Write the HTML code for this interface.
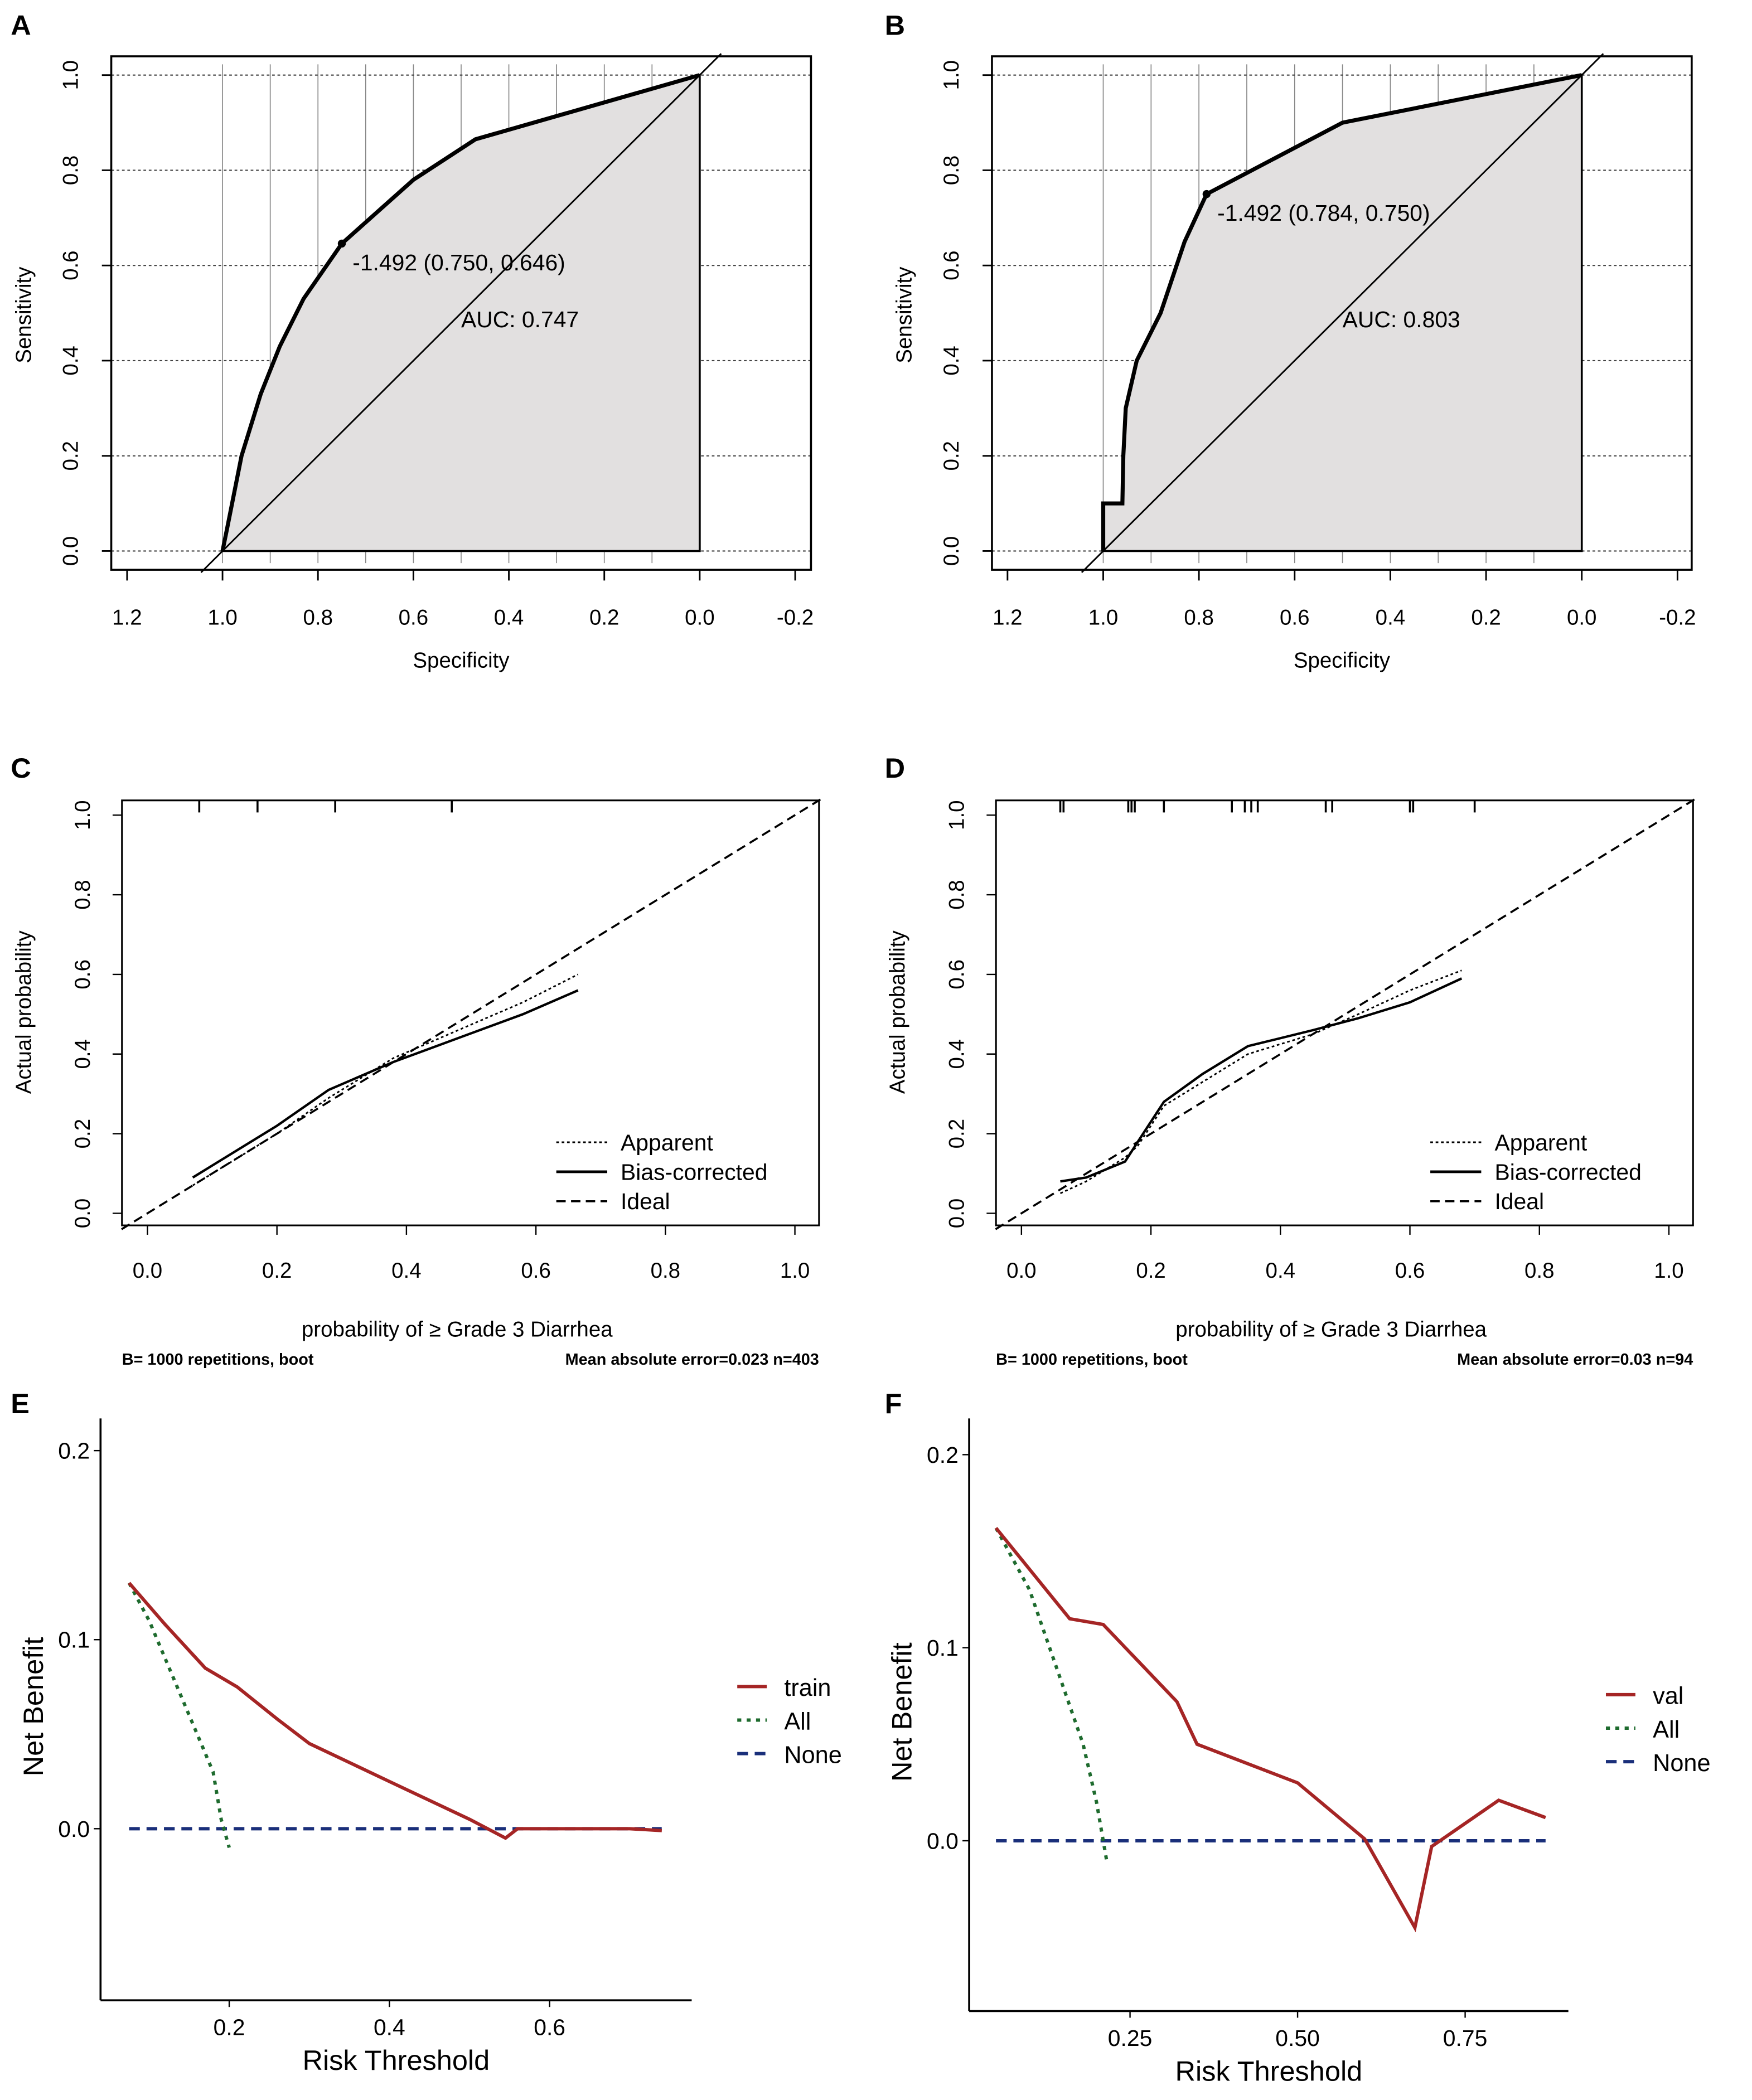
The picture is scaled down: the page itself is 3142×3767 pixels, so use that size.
<!DOCTYPE html>
<html><head><meta charset="utf-8"><style>
html,body{margin:0;padding:0;background:#fff;}
svg{display:block;font-family:"Liberation Sans",sans-serif;}
</style></head><body>
<svg id="fig" width="3142" height="3767" viewBox="0 0 1290 1546" preserveAspectRatio="none" xmlns="http://www.w3.org/2000/svg">
<rect width="1290" height="1546" fill="#fff"/>
<g id="root" transform="scale(0.987)"></g>
</svg>
<script>
// ---------- data ----------
const rocASpec = [1.0, 0.99, 0.96, 0.92, 0.88, 0.83, 0.75, 0.6, 0.47, 0.0];
const rocASens = [0.0, 0.05, 0.2, 0.33, 0.43, 0.53, 0.646, 0.78, 0.865, 1.0];
const rocBSpec = [1.0, 1.0, 0.96, 0.958, 0.953, 0.93, 0.88, 0.83, 0.784, 0.5, 0.0];
const rocBSens = [0.0, 0.1, 0.1, 0.2, 0.3, 0.4, 0.5, 0.65, 0.75, 0.9, 1.0];
const rocTicksX = [1.2, 1.0, 0.8, 0.6, 0.4, 0.2, 0.0, -0.2];
const rocTicksY = [0.0, 0.2, 0.4, 0.6, 0.8, 1.0];

const calCPredX = [0.07, 0.12, 0.2, 0.28, 0.38, 0.48, 0.58, 0.665];
const calCApp = [0.07, 0.12, 0.2, 0.29, 0.39, 0.46, 0.53, 0.6];
const calCBias = [0.09, 0.14, 0.22, 0.31, 0.38, 0.44, 0.5, 0.56];
const calDPredX = [0.06, 0.1, 0.16, 0.18, 0.22, 0.28, 0.35, 0.45, 0.52, 0.6, 0.68];
const calDApp = [0.05, 0.08, 0.14, 0.17, 0.27, 0.33, 0.4, 0.45, 0.5, 0.56, 0.61];
const calDBias = [0.08, 0.09, 0.13, 0.18, 0.28, 0.35, 0.42, 0.46, 0.49, 0.53, 0.59];
const calTicks = [0.0, 0.2, 0.4, 0.6, 0.8, 1.0];
const rugC = [0.08, 0.17, 0.29, 0.47];
const rugD = [0.06, 0.065, 0.165, 0.17, 0.175, 0.22, 0.325, 0.345, 0.355, 0.365, 0.47, 0.48, 0.6, 0.605, 0.7];

const dcaEThr = [0.075, 0.12, 0.17, 0.21, 0.26, 0.3, 0.4, 0.5, 0.545, 0.56, 0.7, 0.74];
const dcaETrain = [0.13, 0.108, 0.085, 0.075, 0.058, 0.045, 0.025, 0.005, -0.005, 0.0, 0.0, -0.001];
const dcaEAllThr = [0.075, 0.1, 0.13, 0.16, 0.18, 0.19, 0.2];
const dcaEAll = [0.13, 0.11, 0.08, 0.05, 0.03, 0.005, -0.01];
const dcaFThr = [0.05, 0.16, 0.21, 0.32, 0.35, 0.5, 0.6, 0.675, 0.7, 0.8, 0.87];
const dcaFVal = [0.162, 0.115, 0.112, 0.072, 0.05, 0.03, 0.001, -0.045, -0.003, 0.021, 0.012];
const dcaFAllThr = [0.05, 0.1, 0.15, 0.18, 0.2, 0.215];
const dcaFAll = [0.162, 0.13, 0.08, 0.05, 0.02, -0.01];

// ---------- helpers ----------
const NS = "http://www.w3.org/2000/svg";
const root = document.getElementById('root');
function el(tag, attrs, parent, text) {
  const e = document.createElementNS(NS, tag);
  for (const k in attrs) e.setAttribute(k, attrs[k]);
  if (text !== undefined) e.textContent = text;
  (parent || root).appendChild(e);
  return e;
}
function lin(d0, d1, r0, r1) { return v => r0 + (v - d0) * (r1 - r0) / (d1 - d0); }
function pts(xs, ys, sx, sy) { return xs.map((x, i) => sx(x).toFixed(1) + ',' + sy(ys[i]).toFixed(1)).join(' '); }

// ---------- ROC panel ----------
function roc(letter, lx, bx0, bx1, x1px, x0px, specs, sens, cutLbl, cutPos, aucLbl) {
  const g = el('g', {});
  
  
  const sx = lin(1, 0, x1px, x0px), sy = lin(0, 1, 411, 56);
  const t = el('text', {x: lx, y: 26, 'font-size': 21, 'font-weight': 'bold'}, g, letter);
   
  for (let s = 1.0; s >= 0.05; s -= 0.1) {
    el('line', {x1: sx(s), x2: sx(s), y1: 48, y2: 420, stroke: '#888', 'stroke-width': 0.7}, g);
  }
  rocTicksY.forEach(v => {
    el('line', {x1: bx0, x2: bx1, y1: sy(v), y2: sy(v), stroke: '#444', 'stroke-width': 0.9, 'stroke-dasharray': '2,2'}, g);
  });
  const poly = el('polygon', {points: pts(specs, sens, sx, sy) + ' ' + sx(0) + ',' + sy(0), fill: '#e2e0e0', stroke: '#000', 'stroke-width': 1.5}, g);
   
  el('line', {x1: sx(1.045), y1: sy(-0.045), x2: sx(-0.045), y2: sy(1.045), stroke: '#000', 'stroke-width': 1.2}, g);
  const c = el('polyline', {points: pts(specs, sens, sx, sy), fill: 'none', stroke: '#000', 'stroke-width': 3}, g);
   
  el('circle', {cx: sx(cutPos[0]), cy: sy(cutPos[1]), r: 3, fill: '#000'}, g);
  el('text', {x: sx(cutPos[0]) + 8, y: sy(cutPos[1]) + 20, 'font-size': 17}, g, cutLbl);
  el('text', {x: sx(0.5), y: sy(0.47), 'font-size': 17}, g, aucLbl);
  el('rect', {x: bx0, y: 42, width: bx1 - bx0, height: 383, fill: 'none', stroke: '#000', 'stroke-width': 1.5}, g);
  rocTicksX.forEach(v => {
    el('line', {x1: sx(v), x2: sx(v), y1: 425, y2: 433, stroke: '#000', 'stroke-width': 1.2}, g);
    el('text', {x: sx(v), y: 466, 'font-size': 16, 'text-anchor': 'middle'}, g, v.toFixed(1));
  });
  rocTicksY.forEach(v => {
    el('line', {x1: bx0 - 7, x2: bx0, y1: sy(v), y2: sy(v), stroke: '#000', 'stroke-width': 1.2}, g);
    el('text', {x: 0, y: 0, 'font-size': 16, 'text-anchor': 'middle', transform: `translate(${bx0 - 25},${sy(v)}) rotate(-90)`}, g, v.toFixed(1));
  });
  el('text', {x: (bx0 + bx1) / 2, y: 498, 'font-size': 16, 'text-anchor': 'middle'}, g, 'Specificity');
  el('text', {x: 0, y: 0, 'font-size': 16, 'text-anchor': 'middle', transform: `translate(${bx0 - 60},235) rotate(-90)`}, g, 'Sensitivity');
}
roc('A', 8, 83, 605, 166, 522, rocASpec, rocASens, '-1.492 (0.750, 0.646)', [0.75, 0.646], 'AUC: 0.747');
roc('B', 660, 740, 1262, 823, 1180, rocBSpec, rocBSens, '-1.492 (0.784, 0.750)', [0.784, 0.75], 'AUC: 0.803');

// ---------- Calibration panel ----------
function cal(letter, lx, bx0, bx1, x0px, x1px, px, app, bias, rug, mae) {
  const g = el('g', {});
  
  
  const sx = lin(0, 1, x0px, x1px), sy = lin(0, 1, 905, 608);
  el('text', {x: lx, y: 580, 'font-size': 21, 'font-weight': 'bold'}, g, letter);
  el('rect', {x: bx0, y: 597, width: bx1 - bx0, height: 317, fill: 'none', stroke: '#000', 'stroke-width': 1.3}, g);
  rug.forEach(v => el('line', {x1: sx(v), x2: sx(v), y1: 597, y2: 606, stroke: '#000', 'stroke-width': 1.5}, g));
  const id = el('line', {x1: sx(-0.04), y1: sy(-0.04), x2: sx(1.04), y2: sy(1.04), stroke: '#000', 'stroke-width': 1.5, 'stroke-dasharray': '7,4'}, g);
   
  const a = el('polyline', {points: pts(px, app, sx, sy), fill: 'none', stroke: '#000', 'stroke-width': 1.2, 'stroke-dasharray': '2,2'}, g);
   
  const b = el('polyline', {points: pts(px, bias, sx, sy), fill: 'none', stroke: '#000', 'stroke-width': 1.8}, g);
   
  calTicks.forEach(v => {
    el('line', {x1: sx(v), x2: sx(v), y1: 914, y2: 921, stroke: '#000'}, g);
    el('text', {x: sx(v), y: 953, 'font-size': 16, 'text-anchor': 'middle'}, g, v.toFixed(1));
    el('line', {x1: bx0 - 7, x2: bx0, y1: sy(v), y2: sy(v), stroke: '#000'}, g);
    el('text', {x: 0, y: 0, 'font-size': 16, 'text-anchor': 'middle', transform: `translate(${bx0 - 24},${sy(v)}) rotate(-90)`}, g, v.toFixed(1));
  });
  const lg = el('g', {}, g);
   
  const lx0 = bx0 + 324;
  [['Apparent', '2,2', 1.2], ['Bias-corrected', '', 2], ['Ideal', '7,4', 1.5]].forEach((e, i) => {
    const y = 852 + i * 22;
    el('line', {x1: lx0, x2: lx0 + 38, y1: y, y2: y, stroke: '#000', 'stroke-width': e[2], 'stroke-dasharray': e[1]}, lg);
    el('text', {x: lx0 + 48, y: y + 6, 'font-size': 17}, lg, e[0]);
  });
  el('text', {x: 0, y: 0, 'font-size': 16, 'text-anchor': 'middle', transform: `translate(${bx0 - 68},755) rotate(-90)`}, g, 'Actual probability');
  el('text', {x: (bx0 + bx1) / 2 - 10, y: 997, 'font-size': 16, 'text-anchor': 'middle'}, g, 'probability of \u2265 Grade 3 Diarrhea');
  el('text', {x: bx0, y: 1018, 'font-size': 12, 'font-weight': 'bold'}, g, 'B= 1000 repetitions, boot');
  el('text', {x: bx1, y: 1018, 'font-size': 12, 'font-weight': 'bold', 'text-anchor': 'end'}, g, mae);
}
cal('C', 8, 91, 611, 110, 593, calCPredX, calCApp, calCBias, rugC, 'Mean absolute error=0.023 n=403');
cal('D', 660, 743, 1263, 762, 1245, calDPredX, calDApp, calDBias, rugD, 'Mean absolute error=0.03 n=94');

// ---------- DCA panel ----------
function dca(letter, lx, ax, axBottom, axRight, y02, y00, xf, thr, vals, allThr, all, yTicks, xTicks, xDec, name, legY) {
  const g = el('g', {});
  
  
  const sy = lin(0, 0.2, y00, y02);
  const sx = xf;
  el('text', {x: lx, y: 1054, 'font-size': 21, 'font-weight': 'bold'}, g, letter);
  el('line', {x1: ax, x2: ax, y1: 1058, y2: axBottom, stroke: '#000', 'stroke-width': 1.5}, g);
  el('line', {x1: ax, x2: axRight, y1: axBottom, y2: axBottom, stroke: '#000', 'stroke-width': 1.5}, g);
  yTicks.forEach(v => {
    el('line', {x1: ax - 5, x2: ax, y1: sy(v), y2: sy(v), stroke: '#000'}, g);
    el('text', {x: ax - 8, y: sy(v) + 6, 'font-size': 17, 'text-anchor': 'end'}, g, v.toFixed(1));
  });
  xTicks.forEach(v => {
    el('line', {x1: sx(v), x2: sx(v), y1: axBottom, y2: axBottom + 5, stroke: '#000'}, g);
    el('text', {x: sx(v), y: axBottom + 26, 'font-size': 17, 'text-anchor': 'middle'}, g, v.toFixed(xDec));
  });
  const n = el('line', {x1: sx(thr[0]), x2: sx(thr[thr.length - 1]), y1: sy(0), y2: sy(0), stroke: '#1a2f7a', 'stroke-width': 2.5, 'stroke-dasharray': '8,5'}, g);
   
  const a = el('polyline', {points: pts(allThr, all, sx, sy), fill: 'none', stroke: '#1e6b2e', 'stroke-width': 2.5, 'stroke-dasharray': '3,4'}, g);
   
  const m = el('polyline', {points: pts(thr, vals, sx, sy), fill: 'none', stroke: '#a52525', 'stroke-width': 2.5}, g);
   
  el('text', {x: 0, y: 0, 'font-size': 21, 'text-anchor': 'middle', transform: `translate(${ax - 43},${(1060 + axBottom) / 2 - 3}) rotate(-90)`}, g, 'Net Benefit');
  el('text', {x: (ax + axRight) / 2, y: axBottom + 52, 'font-size': 21, 'text-anchor': 'middle'}, g, 'Risk Threshold');
  const lg = el('g', {}, g);
   
  const lx0 = ax + 475;
  [[name, '#a52525', ''], ['All', '#1e6b2e', '3,4'], ['None', '#1a2f7a', '8,5']].forEach((e, i) => {
    const y = legY + i * 25;
    el('line', {x1: lx0, x2: lx0 + 22, y1: y, y2: y, stroke: e[1], 'stroke-width': 2.5, 'stroke-dasharray': e[2]}, lg);
    el('text', {x: lx0 + 35, y: y + 7, 'font-size': 18}, lg, e[0]);
  });
}
dca('E', 8, 75, 1492, 516, 1082, 1364, lin(0.2, 0.6, 171, 410), dcaEThr, dcaETrain, dcaEAllThr, dcaEAll, [0.0, 0.1, 0.2], [0.2, 0.4, 0.6], 1, 'train', 1258);
dca('F', 660, 723, 1500, 1170, 1085, 1373, lin(0.25, 0.75, 843, 1093), dcaFThr, dcaFVal, dcaFAllThr, dcaFAll, [0.0, 0.1, 0.2], [0.25, 0.5, 0.75], 2, 'val', 1264);
</script>
</body></html>
